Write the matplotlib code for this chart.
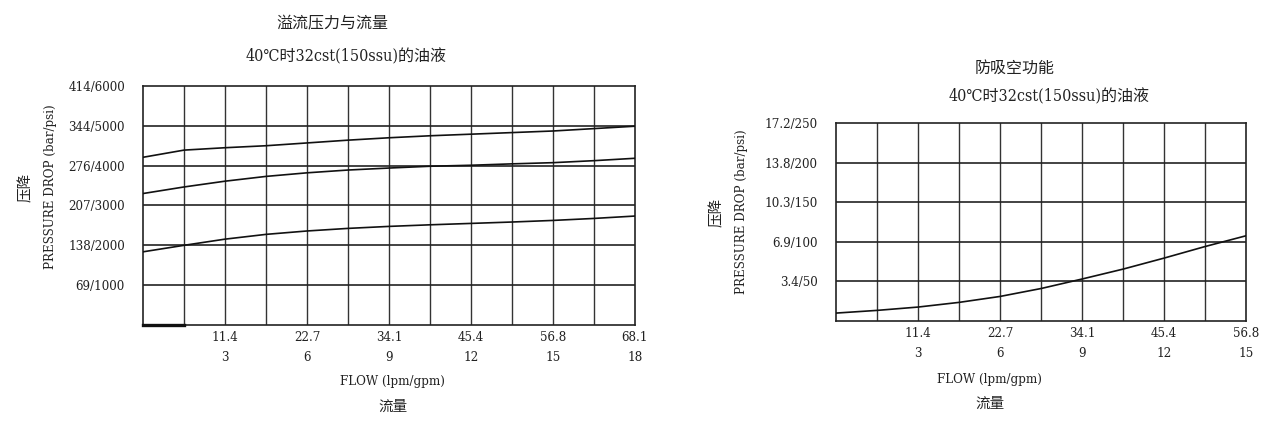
import numpy as np
import matplotlib.pyplot as plt

plt.rcParams['font.family'] = ['DejaVu Serif', 'Noto Sans CJK SC']
plt.rcParams['font.stretch'] = 'condensed'

# relief valve: flow (gpm) vs pressure (psi), three settings
relief_gpm = [0, 1.5, 3, 4.5, 6, 7.5, 9, 10.5, 12, 13.5, 15, 16.5, 18]
relief_high = [4210, 4390, 4450, 4500, 4570, 4640, 4700, 4750, 4790, 4830, 4870, 4930, 4990]
relief_mid = [3300, 3465, 3610, 3730, 3820, 3890, 3940, 3985, 4010, 4045, 4075, 4125, 4185]
relief_low = [1837, 2000, 2155, 2275, 2360, 2425, 2475, 2515, 2550, 2585, 2625, 2675, 2735]
relief_zero_gpm = [0, 1.5]
relief_zero_psi = [0, 0]

# anti-cavitation: flow (gpm) vs pressure (psi)
anticav_gpm = [0, 1.5, 3, 4.5, 6, 7.5, 9, 10.5, 12, 13.5, 15]
anticav_psi = [10, 13.4, 17.6, 23.5, 31, 41, 53, 65.5, 79.4, 94, 107.6]

left_xticks = [3, 6, 9, 12, 15, 18]
left_xlabels = ['11.4\n3', '22.7\n6', '34.1\n9', '45.4\n12', '56.8\n15', '68.1\n18']
left_yticks = [1000, 2000, 3000, 4000, 5000, 6000]
left_ylabels = ['69/1000', '138/2000', '207/3000', '276/4000', '344/5000', '414/6000']

right_xticks = [3, 6, 9, 12, 15]
right_xlabels = ['11.4\n3', '22.7\n6', '34.1\n9', '45.4\n12', '56.8\n15']
right_yticks = [50, 100, 150, 200, 250]
right_ylabels = ['3.4/50', '6.9/100', '10.3/150', '13.8/200', '17.2/250']

txt = '#222222'
fs = 9.5


def setup(ax, xmax, xstep, ymax, ystep, xticks, xlabels, yticks, ylabels):
    ax.set_xlim(0, xmax)
    ax.set_ylim(0, ymax)
    for gx in np.arange(xstep, xmax, xstep):
        ax.axvline(gx, color='#333333', lw=1.0, zorder=1)
    for gy in np.arange(ystep, ymax, ystep):
        ax.axhline(gy, color='#222222', lw=1.2, zorder=1)
    ax.set_xticks(xticks)
    ax.set_xticklabels(xlabels, fontsize=fs, color=txt, linespacing=1.75)
    ax.set_yticks(yticks)
    ax.set_yticklabels(ylabels, fontsize=fs, color=txt)
    ax.tick_params(length=0)
    ax.tick_params(axis='x', pad=4)
    ax.tick_params(axis='y', pad=13)
    for s in ax.spines.values():
        s.set_color('#222222')
        s.set_linewidth(1.2)


fig = plt.figure(figsize=(12.7, 4.25), dpi=100)

ax1 = fig.add_axes([0.1126, 0.2353, 0.3874, 0.5624])
setup(ax1, 18, 1.5, 6000, 1000, left_xticks, left_xlabels, left_yticks, left_ylabels)
for ys in (relief_high, relief_mid, relief_low):
    ax1.plot(relief_gpm, ys, color='#111111', lw=1.2, zorder=3)
ax1.plot(relief_zero_gpm, relief_zero_psi, color='#111111', lw=2.4, zorder=3, clip_on=False)

ax2 = fig.add_axes([0.6583, 0.2447, 0.3228, 0.4659])
setup(ax2, 15, 1.5, 250, 50, right_xticks, right_xlabels, right_yticks, right_ylabels)
ax2.plot(anticav_gpm, anticav_psi, color='#111111', lw=1.2, zorder=3)

# titles and axis labels
tfs = 11.5
fig.text(332 / 1270, 1 - 24 / 425, '溢流压力与流量', ha='center', va='center', fontsize=tfs, color=txt)
fig.text(346 / 1270, 1 - 57 / 425, '40℃时32cst(150ssu)的油液', ha='center', va='center', fontsize=tfs, color=txt)
fig.text(1015 / 1270, 1 - 68 / 425, '防吸空功能', ha='center', va='center', fontsize=tfs, color=txt)
fig.text(1049 / 1270, 1 - 97 / 425, '40℃时32cst(150ssu)的油液', ha='center', va='center', fontsize=tfs, color=txt)

lfs = 9.5
fig.text(26 / 1270, 1 - 187 / 425, '压降', ha='center', va='center', rotation=90, fontsize=10.5, color=txt)
fig.text(51 / 1270, 1 - 187 / 425, 'PRESSURE DROP (bar/psi)', ha='center', va='center', rotation=90, fontsize=lfs, color=txt)
fig.text(717 / 1270, 1 - 212 / 425, '压降', ha='center', va='center', rotation=90, fontsize=10.5, color=txt)
fig.text(742 / 1270, 1 - 212 / 425, 'PRESSURE DROP (bar/psi)', ha='center', va='center', rotation=90, fontsize=lfs, color=txt)

fig.text(393 / 1270, 1 - 382 / 425, 'FLOW (lpm/gpm)', ha='center', va='center', fontsize=lfs, color=txt)
fig.text(393 / 1270, 1 - 407 / 425, '流量', ha='center', va='center', fontsize=10.5, color=txt)
fig.text(990 / 1270, 1 - 379 / 425, 'FLOW (lpm/gpm)', ha='center', va='center', fontsize=lfs, color=txt)
fig.text(990 / 1270, 1 - 404 / 425, '流量', ha='center', va='center', fontsize=10.5, color=txt)

fig.savefig('out.png', dpi=100, facecolor='white')
